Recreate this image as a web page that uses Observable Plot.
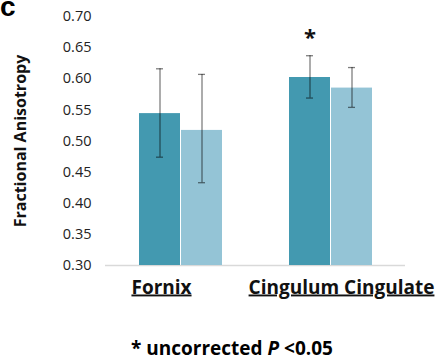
<!DOCTYPE html>
<html>
<head>
<meta charset="utf-8">
<script src="https://cdn.jsdelivr.net/npm/d3@7"></script>
<script src="https://cdn.jsdelivr.net/npm/@observablehq/plot@0.6"></script>
<style>
  html, body { margin: 0; padding: 0; background: #fff; }
  #wrap { position: relative; width: 438px; height: 361px; overflow: hidden; }
  #panel { position: absolute; left: 0; top: -7px; font: bold 28px "Liberation Sans", Arial, sans-serif; color: #000; line-height: 1; }
  #note { position: absolute; left: 0; width: 464px; top: 336px; text-align: center; font: bold 19px "Open Sans", sans-serif; color: #000; white-space: nowrap; line-height: 24px; }
</style>
</head>
<body>
<div id="wrap">
  <div id="chart"></div>
  <div id="panel">c</div>
  <div id="note">* uncorrected <i>P</i> &lt;0.05</div>
</div>
<script>
const regions = ["Fornix", "Cingulum Cingulate"];
const groups = ["Group 1", "Group 2"];
const meanFA  = [0.544, 0.517, 0.602, 0.585];
const errLow  = [0.474, 0.433, 0.569, 0.554];
const errHigh = [0.616, 0.607, 0.637, 0.618];
const yTicks = [0.30, 0.35, 0.40, 0.45, 0.50, 0.55, 0.60, 0.65, 0.70];
const sigMarks = [{region: "Cingulum Cingulate", group: "Group 1", y: 0.667, label: "*"}];

const rows = [];
regions.forEach((r, i) => groups.forEach((g, j) => {
  const k = i * groups.length + j;
  rows.push({region: r, group: g, mean: meanFA[k], lo: errLow[k], hi: errHigh[k]});
}));

const font = '"Open Sans", sans-serif';

const chart = Plot.plot({
  width: 438,
  height: 330,
  marginLeft: 104,
  marginRight: 33,
  marginTop: 16,
  marginBottom: 65,
  style: {fontFamily: font, background: "transparent"},
  fx: {domain: regions, padding: 0, axis: null},
  x: {domain: groups, paddingInner: 0.035, paddingOuter: 0.767, axis: null},
  y: {domain: [0.3, 0.7], axis: null},
  color: {domain: groups, range: ["#4399b0", "#94c4d6"]},
  marks: [
    Plot.ruleY([0.3], {stroke: "#d9d9d9", strokeWidth: 1.5}),
    Plot.axisY({ticks: yTicks, tickFormat: d3.format(".2f"), tickSize: 0, tickPadding: 14,
      line: true, stroke: "#e2e2e2", fill: "#222", fontSize: 14.5, label: null}),
    Plot.barY(rows, {fx: "region", x: "group", y1: 0.3, y2: "mean", fill: "group"}),
    Plot.ruleX(rows, {fx: "region", x: "group", y1: "lo", y2: "hi", stroke: "#000", strokeOpacity: 0.5, strokeWidth: 1.3}),
    Plot.tickY(rows, {fx: "region", x: "group", y: "lo", stroke: "#000", strokeOpacity: 0.5, strokeWidth: 1.3, insetLeft: 17, insetRight: 17}),
    Plot.tickY(rows, {fx: "region", x: "group", y: "hi", stroke: "#000", strokeOpacity: 0.5, strokeWidth: 1.3, insetLeft: 17, insetRight: 17}),
    Plot.text(sigMarks, {fx: "region", x: "group", y: "y", text: "label", fontSize: 22, fontWeight: "bold", fill: "#111", dy: 1}),
    Plot.text([regions[0]], {fx: d => d, text: d => d, frameAnchor: "bottom", dy: 28, dx: -19, fontSize: 19, fontWeight: "bold", fill: "#111"}),
    Plot.text([regions[1]], {fx: d => d, text: d => d, frameAnchor: "bottom", dy: 28, dx: 11, fontSize: 19, fontWeight: "bold", fill: "#111"}),
    Plot.text(["Fractional Anisotropy"], {fx: () => regions[0], text: d => d, frameAnchor: "left", textAnchor: "middle", dx: -85, rotate: -90, fontSize: 16, fontWeight: "bold", fill: "#111"})
  ]
});
document.getElementById("chart").appendChild(chart);
d3.select(chart).selectAll("text").each(function() {
  if (regions.includes(this.textContent)) d3.select(this).style("text-decoration", "underline");
});
</script>
</body>
</html>
